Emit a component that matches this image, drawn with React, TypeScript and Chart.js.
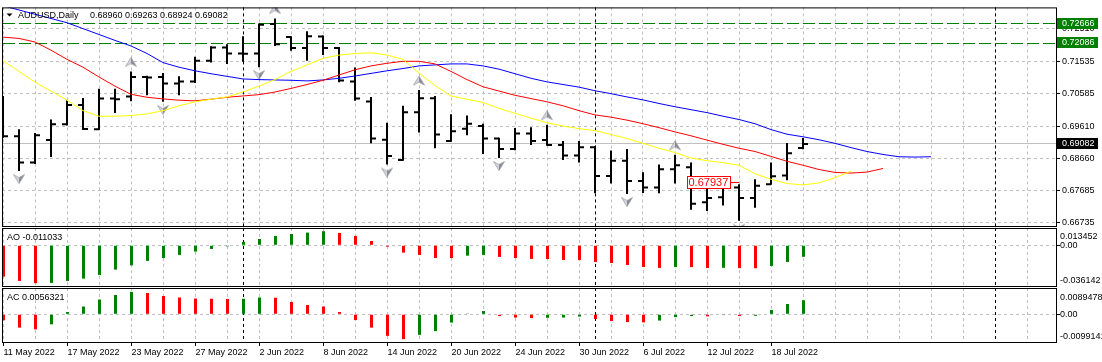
import React, { useEffect, useRef } from 'react';
import { Chart, registerables } from 'chart.js';

Chart.register(...registerables);

const W = 1102;
const H = 362;
const FONT = "'Liberation Sans', Arial, sans-serif";
const GRID = '#C0C0C0';
const UP_GREEN = '#008000';
const DOWN_RED = '#FF0000';

// ---------------- data ----------------
const symbolTitle = 'AUDUSD,Daily';

const dates = [
  '11 May 2022', '12 May 2022', '13 May 2022', '16 May 2022', '17 May 2022', '18 May 2022', '19 May 2022',
  '20 May 2022', '23 May 2022', '24 May 2022', '25 May 2022', '26 May 2022', '27 May 2022', '30 May 2022',
  '31 May 2022', '1 Jun 2022', '2 Jun 2022', '3 Jun 2022', '6 Jun 2022', '7 Jun 2022', '8 Jun 2022',
  '9 Jun 2022', '10 Jun 2022', '13 Jun 2022', '14 Jun 2022', '15 Jun 2022', '16 Jun 2022', '17 Jun 2022',
  '20 Jun 2022', '21 Jun 2022', '22 Jun 2022', '23 Jun 2022', '24 Jun 2022', '27 Jun 2022', '28 Jun 2022',
  '29 Jun 2022', '30 Jun 2022', '1 Jul 2022', '4 Jul 2022', '5 Jul 2022', '6 Jul 2022', '7 Jul 2022',
  '8 Jul 2022', '11 Jul 2022', '12 Jul 2022', '13 Jul 2022', '14 Jul 2022', '15 Jul 2022', '18 Jul 2022',
  '19 Jul 2022', '20 Jul 2022',
];

const opens = [
  0.69340, 0.69315, 0.68527, 0.69198, 0.69666, 0.70240, 0.69520, 0.70434, 0.70493, 0.71077,
  0.71077, 0.70882, 0.70940, 0.71563, 0.71953, 0.71777, 0.71777, 0.72653, 0.72264, 0.71943,
  0.72283, 0.71943, 0.70940, 0.70347, 0.69208, 0.68605, 0.70026, 0.70444, 0.69169, 0.69539,
  0.69617, 0.69247, 0.68936, 0.69393, 0.69198, 0.69052, 0.68741, 0.68984, 0.68128, 0.68585,
  0.67982, 0.67787, 0.68332, 0.68390, 0.67349, 0.67495, 0.67787, 0.67476, 0.67885, 0.68147,
  0.68960,
];
const highs = [
  0.70512, 0.69520, 0.69412, 0.69811, 0.70386, 0.70454, 0.70726, 0.70726, 0.71242, 0.71116,
  0.71193, 0.71096, 0.71680, 0.71991, 0.72050, 0.72293, 0.72673, 0.72819, 0.72293, 0.72439,
  0.72313, 0.71972, 0.71359, 0.70483, 0.69714, 0.70220, 0.70687, 0.70512, 0.69967, 0.69928,
  0.69685, 0.69266, 0.69558, 0.69578, 0.69656, 0.69169, 0.69169, 0.69013, 0.68887, 0.68935,
  0.68244, 0.68468, 0.68760, 0.68527, 0.68030, 0.68001, 0.67884, 0.68030, 0.68527, 0.69111,
  0.69263,
];
const lows = [
  0.69266, 0.68274, 0.68488, 0.68692, 0.69636, 0.69500, 0.69500, 0.70006, 0.70356, 0.70532,
  0.70337, 0.70532, 0.70901, 0.71505, 0.71466, 0.71534, 0.71369, 0.72001, 0.71855, 0.71563,
  0.71729, 0.70921, 0.70366, 0.69101, 0.68469, 0.68585, 0.69422, 0.68955, 0.69150, 0.69344,
  0.68780, 0.68663, 0.68897, 0.69052, 0.69033, 0.68605, 0.68527, 0.67612, 0.67904, 0.67592,
  0.67620, 0.67612, 0.67904, 0.67125, 0.67086, 0.67252, 0.66795, 0.67184, 0.67865, 0.68001,
  0.68924,
];
const closes = [
  0.69315, 0.68527, 0.69344, 0.69666, 0.70240, 0.69529, 0.70434, 0.70415, 0.71077, 0.71058,
  0.70882, 0.70940, 0.71563, 0.71953, 0.71777, 0.71770, 0.72634, 0.72050, 0.71943, 0.72293,
  0.71943, 0.70969, 0.70434, 0.69247, 0.68721, 0.70026, 0.70444, 0.69364, 0.69461, 0.69685,
  0.69247, 0.68936, 0.69393, 0.69169, 0.69052, 0.68741, 0.68984, 0.68128, 0.68585, 0.67982,
  0.67787, 0.68332, 0.68449, 0.67301, 0.67476, 0.67836, 0.67476, 0.67836, 0.68118, 0.68809,
  0.69082,
];

// Alligator lines (shifted into the future)
const jaw = [
  0.73198, 0.73072, 0.72945, 0.72819, 0.72692, 0.72517, 0.72342, 0.72166, 0.72001, 0.71777,
  0.71505, 0.71368, 0.71261, 0.71174, 0.71096, 0.71018, 0.70999, 0.70989, 0.70979, 0.70960,
  0.70989, 0.71038, 0.71106, 0.71184, 0.71261, 0.71329, 0.71407, 0.71437, 0.71466, 0.71466,
  0.71407, 0.71310, 0.71174, 0.71038, 0.70931, 0.70853, 0.70775, 0.70668, 0.70580, 0.70483,
  0.70395, 0.70288, 0.70191, 0.70103, 0.70016, 0.69909, 0.69811, 0.69685, 0.69510, 0.69373,
  0.69296, 0.69208, 0.69101, 0.68974, 0.68858, 0.68770, 0.68702, 0.68692, 0.68702,
];
const teeth = [
  0.72264, 0.72225, 0.72118, 0.71875, 0.71602, 0.71368, 0.71077, 0.70804, 0.70561, 0.70473,
  0.70424, 0.70386, 0.70366, 0.70415, 0.70473, 0.70512, 0.70551, 0.70629, 0.70736, 0.70853,
  0.70979, 0.71135, 0.71291, 0.71407, 0.71485, 0.71544, 0.71544, 0.71466, 0.71242, 0.70999,
  0.70785, 0.70658, 0.70532, 0.70434, 0.70337, 0.70220, 0.70074, 0.69948, 0.69880, 0.69792,
  0.69685, 0.69568, 0.69442, 0.69325, 0.69198, 0.69072, 0.68955, 0.68858, 0.68712, 0.68566,
  0.68449, 0.68322, 0.68235, 0.68215, 0.68245, 0.68352,
];
const lips = [
  0.71563, 0.71242, 0.70921, 0.70658, 0.70386, 0.70074, 0.69909, 0.69909, 0.69928, 0.69977,
  0.70074, 0.70220, 0.70337, 0.70415, 0.70483, 0.70629, 0.70804, 0.70999, 0.71242, 0.71437,
  0.71631, 0.71729, 0.71777, 0.71797, 0.71729, 0.71602, 0.71193, 0.70823, 0.70512, 0.70415,
  0.70317, 0.70142, 0.69996, 0.69850, 0.69714, 0.69617, 0.69539, 0.69480, 0.69364, 0.69247,
  0.69101, 0.68955, 0.68828, 0.68663, 0.68585, 0.68527, 0.68449, 0.68196, 0.68030, 0.67904,
  0.67865, 0.67923, 0.68079, 0.68274,
];

const upFractalBars = [8, 17, 26, 34, 42];
const downFractalBars = [1, 10, 16, 24, 31, 39, 46];

const aoValues = [
  -0.0299, -0.0340, -0.036142, -0.0359, -0.0340, -0.0318, -0.0283, -0.0232, -0.0191, -0.0149,
  -0.0121, -0.0092, -0.0060, -0.0035, -0.0010, 0.0032, 0.0060, 0.0089, 0.0108, 0.0121,
  0.013452, 0.0118, 0.0089, 0.0041, -0.0013, -0.0070, -0.0092, -0.0121, -0.0122, -0.0099,
  -0.0092, -0.0111, -0.0121, -0.0130, -0.0131, -0.0140, -0.0141, -0.0159, -0.0169, -0.0188,
  -0.0207, -0.0216, -0.0207, -0.0208, -0.0217, -0.0215, -0.0218, -0.0219, -0.0197, -0.0159,
  -0.011033,
];
const acValues = [
  -0.0024, -0.0053, -0.0060, -0.0040, 0.0009, 0.0031, 0.0059, 0.0077, 0.0089478, 0.0085,
  0.0073, 0.0067, 0.0063, 0.0062, 0.0061, 0.0062, 0.0067, 0.0066, 0.0049, 0.0037,
  0.0031, 0.0009, -0.0023, -0.0053, -0.0086, -0.009914, -0.0082, -0.0067, -0.0033, 0.0003,
  0.0013, -0.0007, -0.0013, -0.0015, -0.0014, -0.0013, -0.0009, -0.0019, -0.0027, -0.0031,
  -0.0032, -0.0025, -0.0011, -0.0007, -0.0008, -0.0003, -0.0007, -0.0006, 0.0017, 0.0041,
  0.0056321,
];

const priceTicks = [0.66735, 0.67685, 0.68660, 0.69610, 0.70585, 0.71535, 0.72510];
const levelLines = [0.72666, 0.72086];
const priceLabelBar = 46;
const priceLabelValue = 0.67937;
const periodSeparators = [15, 37, 62];
const aoScaleValues = [0.013452, 0, -0.036142];
const aoScaleTexts = ['0.013452', '0.00', '-0.036142'];
const acScaleValues = [0.0089478, 0, -0.009914];
const acScaleTexts = ['0.0089478', '0.00', '-0.0099141'];

// axis ranges
const PRICE_MIN = 0.66610;
const PRICE_MAX = 0.73149;
const AO_MIN = -0.0398;
const AO_MAX = 0.0165;
const AC_MIN = -0.01145;
const AC_MAX = 0.01049;
const X_MIN = -0.0625;
const X_MAX = 65.875;
const XI_MIN = -0.09375;
const XI_MAX = 65.84375;
const gridBars = Array.from({ length: 33 }, (_, k) => 2 * k);

// ---------------- helpers ----------------
function makeFractal(up: boolean): HTMLCanvasElement {
  const c = document.createElement('canvas');
  c.width = 12;
  c.height = 30;
  const g = c.getContext('2d') as CanvasRenderingContext2D;
  const cy = up ? 15 - 9.5 : 15 + 8;
  const s = up ? -1 : 1;
  const tip = cy + s * 4.5;
  const base = cy - s * 4.5;
  const notch = cy - s * 1.5;
  g.fillStyle = '#D4D4DC';
  g.beginPath(); g.moveTo(6, tip); g.lineTo(0.5, base); g.lineTo(6, notch); g.closePath(); g.fill();
  g.fillStyle = '#8A8A96';
  g.beginPath(); g.moveTo(6, tip); g.lineTo(11.5, base); g.lineTo(6, notch); g.closePath(); g.fill();
  g.strokeStyle = '#9A9AA0';
  g.lineWidth = 0.7;
  g.beginPath(); g.moveTo(6, tip); g.lineTo(11.5, base); g.lineTo(6, notch); g.lineTo(0.5, base); g.closePath(); g.stroke();
  return c;
}

function drawSeparators(chart: any) {
  const { ctx, chartArea: a, scales } = chart;
  ctx.save();
  ctx.strokeStyle = '#000';
  ctx.lineWidth = 1;
  ctx.setLineDash([3, 3]);
  for (const b of periodSeparators) {
    const xp = Math.round(scales.x.getPixelForValue(b) - 0.5) + 0.5;
    ctx.beginPath();
    ctx.moveTo(xp, a.top);
    ctx.lineTo(xp, a.bottom);
    ctx.stroke();
  }
  ctx.restore();
}

function drawBorder(chart: any) {
  const { ctx, chartArea: a } = chart;
  ctx.save();
  ctx.strokeStyle = '#000';
  ctx.lineWidth = 1;
  ctx.setLineDash([]);
  ctx.strokeRect(a.left + 0.5, a.top + 0.5, a.right - a.left - 1, a.bottom - a.top - 1);
  ctx.restore();
}

function valueBox(chart: any, value: number, bg: string) {
  const { ctx, chartArea: a, scales } = chart;
  const yp = Math.round(scales.y.getPixelForValue(value));
  ctx.save();
  ctx.fillStyle = bg;
  ctx.fillRect(a.right, yp - 6, 41, 11);
  ctx.fillStyle = '#FFFFFF';
  ctx.font = `9px ${FONT}`;
  ctx.textAlign = 'left';
  ctx.textBaseline = 'middle';
  ctx.fillText(value.toFixed(5), a.right + 5, yp);
  ctx.restore();
}

const mainPlugin = {
  id: 'mainDecor',
  beforeDatasetsDraw(chart: any) {
    const { ctx, chartArea: a, scales } = chart;
    drawSeparators(chart);
    ctx.save();
    ctx.beginPath();
    ctx.rect(a.left, a.top, a.right - a.left, a.bottom - a.top);
    ctx.clip();
    ctx.lineWidth = 1;
    const yb = Math.round(scales.y.getPixelForValue(closes[closes.length - 1]) - 0.5) + 0.5;
    ctx.strokeStyle = GRID;
    ctx.setLineDash([]);
    ctx.beginPath(); ctx.moveTo(a.left, yb); ctx.lineTo(a.right, yb); ctx.stroke();
    ctx.strokeStyle = UP_GREEN;
    ctx.setLineDash([12, 4]);
    for (const lv of levelLines) {
      const yl = Math.round(scales.y.getPixelForValue(lv) - 0.5) + 0.5;
      ctx.beginPath(); ctx.moveTo(a.left + 1, yl); ctx.lineTo(a.right, yl); ctx.stroke();
    }
    ctx.restore();
  },
  afterDatasetsDraw(chart: any) {
    const { ctx, scales } = chart;
    const yp = Math.round(scales.y.getPixelForValue(priceLabelValue)) + 0.5;
    const xe = scales.x.getPixelForValue(priceLabelBar);
    const bx1 = Math.round(xe - 9) + 0.5;
    const bx0 = bx1 - 43;
    ctx.save();
    ctx.strokeStyle = DOWN_RED;
    ctx.lineWidth = 1;
    ctx.beginPath(); ctx.moveTo(bx1, yp); ctx.lineTo(xe, yp); ctx.stroke();
    ctx.fillStyle = '#FFFFFF';
    ctx.fillRect(bx0, yp - 6, bx1 - bx0, 12);
    ctx.strokeRect(bx0, yp - 6, bx1 - bx0, 12);
    ctx.fillStyle = DOWN_RED;
    ctx.font = `11px ${FONT}`;
    ctx.textAlign = 'left';
    ctx.textBaseline = 'middle';
    ctx.fillText(priceLabelValue.toFixed(5), bx0 + 1, yp + 0.5);
    ctx.restore();
  },
  afterDraw(chart: any) {
    const { ctx, chartArea: a } = chart;
    drawBorder(chart);
    for (const lv of levelLines) valueBox(chart, lv, UP_GREEN);
    valueBox(chart, closes[closes.length - 1], '#000000');
    ctx.save();
    ctx.fillStyle = '#000';
    ctx.beginPath();
    ctx.moveTo(a.left + 4.5, a.top + 6);
    ctx.lineTo(a.left + 10.5, a.top + 6);
    ctx.lineTo(a.left + 7.5, a.top + 9);
    ctx.closePath();
    ctx.fill();
    ctx.font = `9px ${FONT}`;
    ctx.textAlign = 'left';
    ctx.textBaseline = 'middle';
    ctx.fillText(symbolTitle, a.left + 16, a.top + 8);
    const last = closes.length - 1;
    ctx.fillText([opens[last], highs[last], lows[last], closes[last]].map((v) => v.toFixed(5)).join(' '), a.left + 88, a.top + 8);
    ctx.restore();
  },
};

function indicatorPlugin(name: string, values: number[], digits: number, scaleValues: number[], scaleTexts: string[]) {
  return {
    id: 'ind' + name,
    beforeDatasetsDraw(chart: any) {
      drawSeparators(chart);
    },
    afterDraw(chart: any) {
      const { ctx, chartArea: a, scales } = chart;
      drawBorder(chart);
      ctx.save();
      ctx.fillStyle = '#000';
      ctx.font = `9px ${FONT}`;
      ctx.textAlign = 'left';
      ctx.textBaseline = 'middle';
      ctx.fillText(`${name} ${values[values.length - 1].toFixed(digits)}`, a.left + 5, a.top + 9.5);
      ctx.textBaseline = 'alphabetic';
      ctx.fillText(scaleTexts[0], a.right + 3, scales.y.getPixelForValue(scaleValues[0]) + 8);
      ctx.textBaseline = 'middle';
      ctx.fillText(scaleTexts[1], a.right + 3, scales.y.getPixelForValue(scaleValues[1]));
      ctx.textBaseline = 'alphabetic';
      ctx.fillText(scaleTexts[2], a.right + 3, scales.y.getPixelForValue(scaleValues[2]));
      ctx.restore();
    },
  };
}

function xScale(min: number, max: number, showLabels: boolean) {
  return {
    type: 'linear',
    position: 'bottom',
    min,
    max,
    offset: false,
    afterBuildTicks: (s: any) => {
      s.ticks = gridBars.map((v) => ({ value: v }));
    },
    grid: {
      color: GRID,
      lineWidth: 1,
      offset: false,
      drawTicks: showLabels,
      tickLength: 3,
      tickWidth: 1,
      tickBorderDash: [],
      tickColor: (c: any) => {
        const v = c.tick ? c.tick.value : -1;
        return v % 4 === 0 && v < dates.length ? '#000000' : 'rgba(0,0,0,0)';
      },
    },
    border: { display: false, dash: [3, 3] },
    ticks: showLabels
      ? {
          display: true,
          autoSkip: false,
          maxRotation: 0,
          minRotation: 0,
          align: 'start',
          padding: 1,
          color: '#000',
          font: { family: FONT, size: 9 },
          callback: (v: any) => {
            const i = Math.round(Number(v));
            return i % 4 === 0 && i < dates.length ? dates[i] : '';
          },
        }
      : { display: false },
    afterFit: (s: any) => {
      s.height = showLabels ? 19 : 0;
    },
  };
}

function indicatorY(min: number, max: number) {
  return {
    type: 'linear',
    position: 'right',
    min,
    max,
    afterBuildTicks: (s: any) => {
      s.ticks = [{ value: 0 }];
    },
    ticks: { display: false },
    grid: { color: GRID, lineWidth: 1, drawTicks: true, tickLength: 3, tickColor: '#000', tickBorderDash: [] },
    border: { display: false, dash: [3, 3] },
    afterFit: (s: any) => {
      s.width = 45;
    },
  };
}

function indicatorColors(values: number[]) {
  return values.map((v, i) => (i > 0 && v > values[i - 1] ? UP_GREEN : DOWN_RED));
}

const baseOptions = {
  responsive: false,
  maintainAspectRatio: false,
  animation: false,
  devicePixelRatio: 1,
  events: [],
  plugins: { legend: { display: false }, tooltip: { enabled: false } },
};

export default function App() {
  const mainRef = useRef<HTMLCanvasElement>(null);
  const aoRef = useRef<HTMLCanvasElement>(null);
  const acRef = useRef<HTMLCanvasElement>(null);

  useEffect(() => {
    Chart.defaults.font.family = FONT;
    Chart.defaults.font.size = 9;
    Chart.defaults.color = '#000';
    const upImg = makeFractal(true);
    const downImg = makeFractal(false);
    const charts: Chart[] = [];

    const pts = (arr: number[]) => arr.map((v, i) => ({ x: i, y: v }));

    charts.push(
      new Chart(mainRef.current as HTMLCanvasElement, {
        type: 'bar',
        data: {
          datasets: [
            { type: 'line', data: pts(lips), borderColor: '#FFFF00', borderWidth: 1, pointRadius: 0, tension: 0 },
            { type: 'line', data: pts(teeth), borderColor: '#FF0000', borderWidth: 1, pointRadius: 0, tension: 0 },
            { type: 'line', data: pts(jaw), borderColor: '#0000FF', borderWidth: 1, pointRadius: 0, tension: 0 },
            {
              type: 'scatter',
              data: upFractalBars.map((i) => ({ x: i, y: highs[i] })),
              pointStyle: upImg,
              pointRadius: 1,
              clip: 0,
            },
            {
              type: 'scatter',
              data: downFractalBars.map((i) => ({ x: i, y: lows[i] })),
              pointStyle: downImg,
              pointRadius: 1,
              clip: 0,
            },
            {
              type: 'scatter',
              data: pts(closes),
              pointStyle: 'dash',
              pointRotation: 0,
              pointRadius: 5,
              pointBorderWidth: 2,
              pointBorderColor: '#000',
              pointBackgroundColor: '#000',
              clip: 0,
            },
            {
              type: 'scatter',
              data: pts(opens),
              pointStyle: 'dash',
              pointRotation: 180,
              pointRadius: 5,
              pointBorderWidth: 2,
              pointBorderColor: '#000',
              pointBackgroundColor: '#000',
              clip: 0,
            },
            {
              type: 'bar',
              data: lows.map((l, i) => ({ x: i, y: [l, highs[i]] })),
              backgroundColor: '#000',
              borderWidth: 0,
              barThickness: 2,
              inflateAmount: 0,
            },
          ] as any,
        },
        options: {
          ...baseOptions,
          layout: { autoPadding: false, padding: { top: 3, bottom: 135, left: 2, right: 0 } },
          scales: {
            x: xScale(X_MIN, X_MAX, false),
            y: {
              type: 'linear',
              position: 'right',
              min: PRICE_MIN,
              max: PRICE_MAX,
              afterBuildTicks: (s: any) => {
                s.ticks = priceTicks.map((v) => ({ value: v }));
              },
              ticks: {
                color: '#000',
                padding: 2,
                autoSkip: false,
                font: { family: FONT, size: 9 },
                callback: (v: any) => Number(v).toFixed(5),
              },
              grid: { color: GRID, lineWidth: 1, drawTicks: true, tickLength: 3, tickColor: '#000', tickBorderDash: [] },
              border: { display: false, dash: [3, 3] },
              afterFit: (s: any) => {
                s.width = 45;
              },
            },
          } as any,
        } as any,
        plugins: [mainPlugin as any],
      })
    );

    charts.push(
      new Chart(aoRef.current as HTMLCanvasElement, {
        type: 'bar',
        data: {
          datasets: [
            {
              data: pts(aoValues),
              backgroundColor: indicatorColors(aoValues),
              borderWidth: 0,
              barThickness: 3,
              inflateAmount: 0,
            },
          ] as any,
        },
        options: {
          ...baseOptions,
          layout: { autoPadding: false, padding: { top: 228, bottom: 75, left: 2, right: 0 } },
          scales: { x: xScale(XI_MIN, XI_MAX, false), y: indicatorY(AO_MIN, AO_MAX) } as any,
        } as any,
        plugins: [indicatorPlugin('AO', aoValues, 6, aoScaleValues, aoScaleTexts) as any],
      })
    );

    charts.push(
      new Chart(acRef.current as HTMLCanvasElement, {
        type: 'bar',
        data: {
          datasets: [
            {
              data: pts(acValues),
              backgroundColor: indicatorColors(acValues),
              borderWidth: 0,
              barThickness: 3,
              inflateAmount: 0,
            },
          ] as any,
        },
        options: {
          ...baseOptions,
          layout: { autoPadding: false, padding: { top: 288, bottom: 0, left: 2, right: 0 } },
          scales: { x: xScale(XI_MIN, XI_MAX, true), y: indicatorY(AC_MIN, AC_MAX) } as any,
        } as any,
        plugins: [indicatorPlugin('AC', acValues, 7, acScaleValues, acScaleTexts) as any],
      })
    );

    return () => {
      charts.forEach((c) => c.destroy());
    };
  }, []);

  const cs: React.CSSProperties = { position: 'absolute', left: 0, top: 0 };
  return (
    <div style={{ position: 'fixed', left: 0, top: 0, width: W, height: H, background: '#fff', overflow: 'hidden' }}>
      <canvas ref={mainRef} width={W} height={H} style={cs} />
      <canvas ref={aoRef} width={W} height={H} style={cs} />
      <canvas ref={acRef} width={W} height={H} style={cs} />
    </div>
  );
}
